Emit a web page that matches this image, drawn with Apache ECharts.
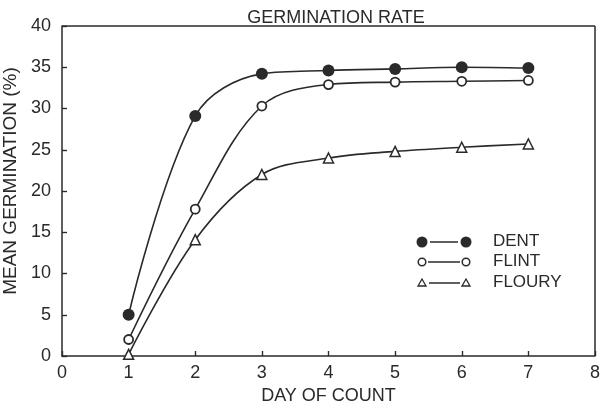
<!DOCTYPE html>
<html>
<head>
<meta charset="utf-8">
<script src="https://cdn.jsdelivr.net/npm/echarts@6/dist/echarts.min.js"></script>
<style>
html,body{margin:0;padding:0;background:#fff;}
#main{width:601px;height:409px;}
</style>
</head>
<body>
<div id="main"></div>
<script>
var days = [1, 2, 3, 4, 5, 6, 7];
var dent = [5, 29.1, 34.2, 34.6, 34.8, 35.0, 34.9];
var flint = [2, 17.8, 30.3, 32.9, 33.2, 33.3, 33.4];
var floury = [0.2, 14.1, 22.0, 24.0, 24.8, 25.3, 25.7];

function pairs(vals) {
    return days.map(function (d, i) { return [d, vals[i]]; });
}

var ink = '#2a2a2a';
var font = 'Liberation Sans';

// outer half of the crossing tick marks
function outerTicks(min, max, step) {
    return {
        type: 'value', min: min, max: max, interval: step,
        axisLine: { show: false },
        axisTick: { show: true, inside: false, length: 5, lineStyle: { color: ink, width: 1.2 } },
        axisLabel: { show: false },
        splitLine: { show: false }
    };
}

var myChart = echarts.init(document.getElementById('main'));
var option = {
    backgroundColor: '#fff',
    animation: false,
    textStyle: { fontFamily: font, color: ink },
    title: {
        text: 'GERMINATION RATE',
        left: 331, top: 4, textAlign: 'center',
        textStyle: { fontFamily: font, fontSize: 18, fontWeight: 'normal', color: ink }
    },
    grid: { left: 62, right: 6, top: 26, bottom: 53, containLabel: false, outerBoundsMode: 'none' },
    xAxis: [{
        type: 'value', min: 0, max: 8, interval: 1,
        name: 'DAY OF COUNT', nameLocation: 'middle', nameGap: 31,
        nameTextStyle: { fontSize: 18, color: ink },
        axisLine: { lineStyle: { color: ink, width: 1.5 } },
        axisTick: { inside: true, length: 5, lineStyle: { color: ink, width: 1.2 } },
        axisLabel: { fontSize: 18, color: ink, margin: 8 },
        splitLine: { show: false }
    }, outerTicks(0, 8, 1)],
    yAxis: [{
        type: 'value', min: 0, max: 40, interval: 5,
        name: 'MEAN GERMINATION (%)', nameLocation: 'middle', nameGap: 36,
        nameTextStyle: { fontSize: 19, color: ink, padding: [0, 0, 0, 20] },
        axisLine: { show: true, lineStyle: { color: ink, width: 1.5 } },
        axisTick: { show: true, inside: true, length: 5, lineStyle: { color: ink, width: 1.2 } },
        axisLabel: { fontSize: 18, color: ink, margin: 11 },
        splitLine: { show: false }
    }, outerTicks(0, 40, 5)],
    graphic: [
        { type: 'line', shape: { x1: 62, y1: 26, x2: 595, y2: 26 }, style: { stroke: ink, lineWidth: 1.5 } },
        { type: 'line', shape: { x1: 595, y1: 26, x2: 595, y2: 356 }, style: { stroke: ink, lineWidth: 1.5 } },
        { type: 'circle', shape: { cx: 422, cy: 242, r: 5.5 }, style: { fill: ink } },
        { type: 'line', shape: { x1: 430, y1: 242, x2: 458, y2: 242 }, style: { stroke: ink, lineWidth: 1.5 } },
        { type: 'circle', shape: { cx: 466, cy: 242, r: 5.5 }, style: { fill: ink } },
        { type: 'text', left: 493, top: 233, style: { text: 'DENT', fontFamily: font, fontSize: 17, fill: ink } },
        { type: 'circle', shape: { cx: 422, cy: 262, r: 3.8 }, style: { fill: '#fff', stroke: ink, lineWidth: 1.5 } },
        { type: 'line', shape: { x1: 428, y1: 262, x2: 460, y2: 262 }, style: { stroke: ink, lineWidth: 1.5 } },
        { type: 'circle', shape: { cx: 466, cy: 262, r: 3.8 }, style: { fill: '#fff', stroke: ink, lineWidth: 1.5 } },
        { type: 'text', left: 493, top: 253, style: { text: 'FLINT', fontFamily: font, fontSize: 17, fill: ink } },
        { type: 'polygon', shape: { points: [[422, 279], [418, 286], [426, 286]] }, style: { fill: '#fff', stroke: ink, lineWidth: 1.3 } },
        { type: 'line', shape: { x1: 429, y1: 283, x2: 460, y2: 283 }, style: { stroke: ink, lineWidth: 1.5 } },
        { type: 'polygon', shape: { points: [[466, 279], [462, 286], [470, 286]] }, style: { fill: '#fff', stroke: ink, lineWidth: 1.3 } },
        { type: 'text', left: 493, top: 274, style: { text: 'FLOURY', fontFamily: font, fontSize: 17, fill: ink } }
    ],
    series: [
        {
            name: 'DENT', type: 'line', data: pairs(dent), smooth: 0.35,
            symbol: 'circle', symbolSize: 12,
            itemStyle: { color: ink },
            lineStyle: { color: ink, width: 1.6 }
        },
        {
            name: 'FLINT', type: 'line', data: pairs(flint), smooth: 0.35,
            symbol: 'circle', symbolSize: 9,
            itemStyle: { color: '#fff', borderColor: ink, borderWidth: 1.8 },
            lineStyle: { color: ink, width: 1.6 }
        },
        {
            name: 'FLOURY', type: 'line', data: pairs(floury), smooth: 0.35,
            symbol: 'triangle', symbolSize: 10,
            itemStyle: { color: '#fff', borderColor: ink, borderWidth: 1.5 },
            lineStyle: { color: ink, width: 1.6 }
        }
    ]
};
myChart.setOption(option);
</script>
</body>
</html>
